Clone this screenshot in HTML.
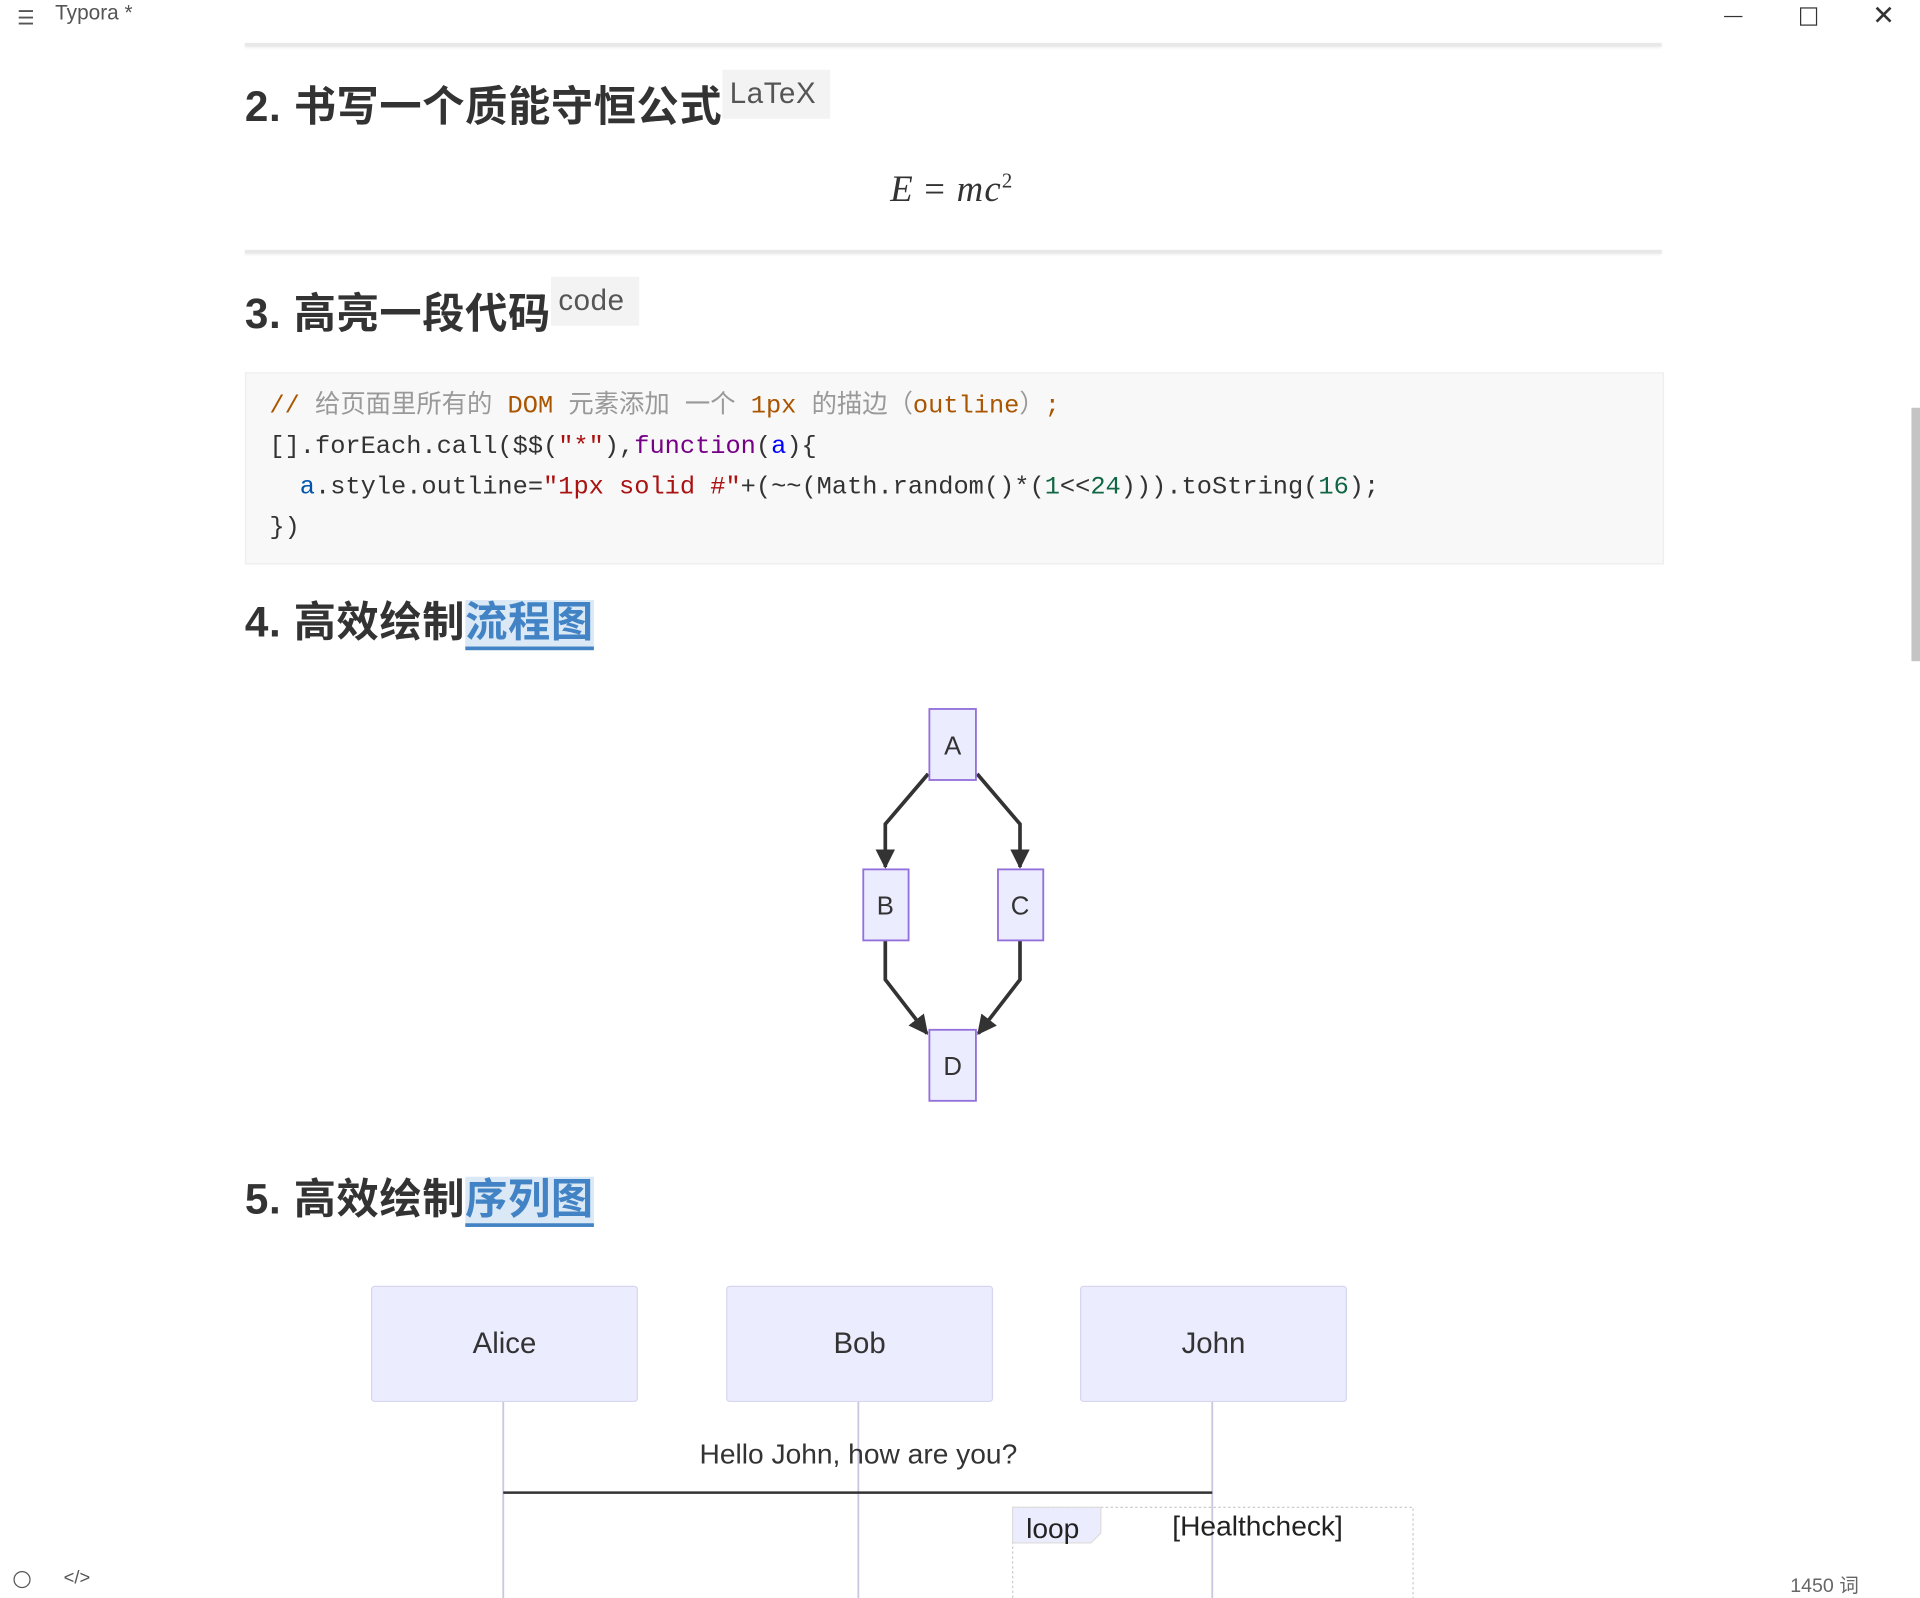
<!DOCTYPE html>
<html><head><meta charset="utf-8"><style>
html,body{margin:0;padding:0;background:#fff;overflow:hidden;width:1920px;height:1598px}
#w{position:absolute;left:0;top:0;width:1568px;height:1305px;transform:scale(1.22449);transform-origin:0 0;font-family:"Liberation Sans","Noto Sans CJK SC",sans-serif;color:#333}
.a{position:absolute;white-space:nowrap}
.hr{position:absolute;left:200px;width:1157px;height:3px;background:#e8e8e8;box-shadow:0 1px 2px #eee}
h2{position:absolute;margin:0;left:200px;font-size:34.5px;font-weight:bold;color:#333;white-space:nowrap;line-height:40px;letter-spacing:0.5px}
.tag{position:absolute;background:#f3f3f3;color:#555;font-size:24px;padding:0 6px;line-height:40px;letter-spacing:0.5px}
.lk{color:#4183c4;background:#dbe8f5;border-bottom:3px solid #4183c4}
.code{position:absolute;left:200px;top:304px;width:1157px;height:155px;background:#f8f8f8;border:1px solid #eee}
.code div{position:absolute;left:19px;font-family:"Liberation Mono","Noto Sans CJK SC",monospace;font-size:20.7px;line-height:33px;white-space:pre;color:#333}
.actor{position:absolute;top:1050px;width:216px;height:93px;background:#ECECFF;border:1px solid #d6d6f0;border-radius:3px;font-size:24px;text-align:center;line-height:93px;color:#333}
</style></head><body><div id="w">
<div class="a" style="left:14px;top:5px;font-size:16px;color:#555">&#9776;</div>
<div class="a" style="left:45px;top:1px;font-size:17px;color:#555">Typora *</div>
<div class="a" style="left:1408px;top:13px;width:15px;height:1px;background:#333"></div>
<div class="a" style="left:1470px;top:6px;width:12px;height:13px;border:1.5px solid #333"></div>
<div class="a" style="left:1529px;top:0px;font-size:22px;color:#333">✕</div>
<div class="hr" style="top:35px"></div>
<h2 style="top:68px">2. 书写一个质能守恒公式</h2>
<div class="tag" style="left:590px;top:57px;width:76px">LaTeX</div>
<div class="a" style="left:727px;top:138px;font-family:'Liberation Serif',serif;font-size:30px;font-style:italic;color:#333;letter-spacing:1px">E <span style="font-style:normal">=</span> mc<sup style="font-size:17px;font-style:normal">2</sup></div>
<div class="hr" style="top:204px"></div>
<h2 style="top:237px">3. 高亮一段代码</h2>
<div class="tag" style="left:450px;top:226px;width:60px">code</div>
<div class="code">
<div style="top:11px;color:#aa5500"><span style="color:#a50">//</span> <span style="color:#999">给页面里所有的</span> DOM <span style="color:#999">元素添加 一个</span> 1px <span style="color:#999">的描边（</span>outline<span style="color:#999">）</span>;</div>
<div style="top:44px">[].forEach.call($$(<span style="color:#a11">"*"</span>),<span style="color:#708">function</span>(<span style="color:#00f">a</span>){</div>
<div style="top:77px">  <span style="color:#05a">a</span>.style.outline=<span style="color:#a11">"1px solid #"</span>+(~~(Math.random()*(<span style="color:#164">1</span>&lt;&lt;<span style="color:#164">24</span>))).toString(<span style="color:#164">16</span>);</div>
<div style="top:110px">})</div>
</div>
<h2 style="top:489px">4. 高效绘制<span class="lk">流程图</span></h2>
<svg class="a" style="left:0;top:0" width="1568" height="1305">
<defs>
<marker id="ar2" viewBox="0 0 10 10" markerWidth="16" markerHeight="16" refX="9" refY="5" orient="auto" markerUnits="userSpaceOnUse"><path d="M0,0L10,5L0,10z" fill="#333"/></marker></defs>
<g fill="none" stroke="#333" stroke-width="3">
<path d="M758,632L723,673L723,708" marker-end="url(#ar2)"/>
<path d="M798,632L833,673L833,708" marker-end="url(#ar2)"/>
<path d="M723,768L723,800L757,844" marker-end="url(#ar2)"/>
<path d="M833,768L833,800L799,844" marker-end="url(#ar2)"/>
</g>
<g fill="#ECECFF" stroke="#9370DB" stroke-width="1.5">
<rect x="759" y="579" width="38" height="58"/><rect x="705" y="710" width="37" height="58"/>
<rect x="815" y="710" width="37" height="58"/><rect x="759" y="841" width="38" height="58"/>
</g>
<g font-family="Liberation Sans,sans-serif" font-size="21" fill="#333" text-anchor="middle">
<text x="778" y="616">A</text><text x="723" y="747">B</text><text x="833" y="747">C</text><text x="778" y="878">D</text>
</g>
<g stroke="#c8c8e0" stroke-width="1.5"><line x1="411" y1="1144" x2="411" y2="1305"/><line x1="701" y1="1144" x2="701" y2="1305"/><line x1="990" y1="1144" x2="990" y2="1305"/></g>
<line x1="411" y1="1219" x2="990" y2="1219" stroke="#333" stroke-width="2"/>
<rect x="827" y="1231" width="327" height="80" fill="none" stroke="#ccc" stroke-dasharray="2,2"/>
<path d="M827,1231H899V1252L891,1260H827Z" fill="#ECECFF" stroke="#ddd"/>
<text x="838" y="1256" font-family="Liberation Sans,sans-serif" font-size="23" fill="#222">loop</text>
<text x="1027" y="1254" font-family="Liberation Sans,sans-serif" font-size="23" fill="#222" text-anchor="middle">[Healthcheck]</text>
<text x="701" y="1195" font-family="Liberation Sans,sans-serif" font-size="23" fill="#333" text-anchor="middle">Hello John, how are you?</text>
</svg>
<h2 style="top:960px">5. 高效绘制<span class="lk">序列图</span></h2>
<div class="actor" style="left:303px">Alice</div>
<div class="actor" style="left:593px">Bob</div>
<div class="actor" style="left:882px">John</div>
<div class="a" style="left:1561px;top:333px;width:7px;height:207px;background:#c4c4c4"></div>
<div class="a" style="left:11px;top:1283px;width:12px;height:12px;border:1.5px solid #555;border-radius:50%"></div>
<div class="a" style="left:52px;top:1280px;font-size:15px;color:#555">&lt;/&gt;</div>
<div class="a" style="left:1462px;top:1281px;font-size:16px;color:#666">1450 词</div>
</div></body></html>
